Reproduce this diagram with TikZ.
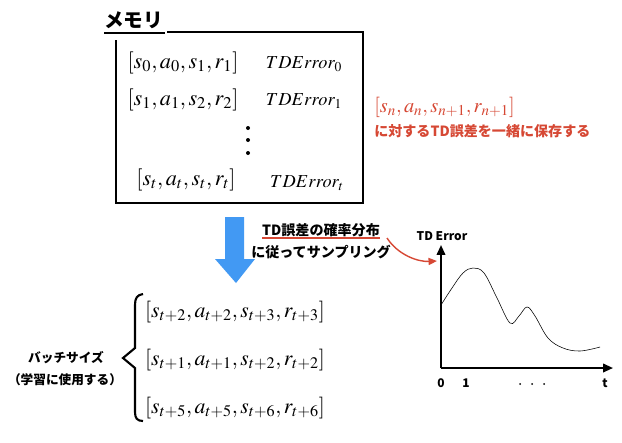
\documentclass[tikz,border=0pt]{standalone}
\usepackage{mathptmx}
\usepackage{fontspec}
\newfontfamily\jpfont{Noto Sans CJK JP}
\usetikzlibrary{arrows.meta}
\definecolor{tdred}{RGB}{214,72,52}
\definecolor{tdblue}{RGB}{66,153,243}
\tikzset{
  tuple/.style={font=\fontsize{15.8}{18}\selectfont, inner sep=0pt},
  tderr/.style={font=\fontsize{13}{15}\selectfont, inner sep=0pt},
  jptext/.style={font=\jpfont\bfseries\fontsize{10}{12}\selectfont, inner sep=0pt},
  axislbl/.style={font=\jpfont\bfseries\fontsize{8.5}{10}\selectfont, inner sep=0pt},
}
\begin{document}
\begin{tikzpicture}[x=0.025cm, y=-0.025cm]
  \useasboundingbox (0,0) rectangle (622,442);

  % memory box with its title
  \node[jptext, font=\jpfont\bfseries\fontsize{14}{16}\selectfont, anchor=west] (memlbl) at (104,20) {メモリ};
  \coordinate (memul) at (104,33);
  \coordinate (memulend) at (165,33);
  \draw[line width=1pt] (memul) -- (memulend);
  \draw[line width=1.6pt] (167,32) -- (363,32) -- (363,203) -- (116,203) -- (116,40);

  % stored transitions
  \node[tuple] (m0) at (183,63) {$[s_0, a_0, s_1, r_1]$};
  \node[tderr] (e0) at (304,64) {$TDError_0$};
  \node[tuple] (m1) at (183,100) {$[s_1, a_1, s_2, r_2]$};
  \node[tderr] (e1) at (304,101) {$TDError_1$};
  \foreach \y in {128,140,153} {
    \fill (248,\y) circle (2);
  }
  \node[tuple] (mt) at (186,180) {$[s_t, a_t, s_t, r_t]$};
  \node[tderr] (et) at (307,183) {$TDError_t$};

  % note in red
  \node[tuple, font=\fontsize{14.5}{17}\selectfont, text=tdred, anchor=west] (redtuple) at (374,107) {$[s_n, a_n, s_{n+1}, r_{n+1}]$};
  \node[jptext, text=tdred, anchor=west] (redlbl) at (374,131) {に対するTD誤差を一緒に保存する};

  % sampling arrow
  \fill[tdblue] (225,217) -- (244,217) -- (244,259) -- (255,259) -- (236,283)
    -- (215,259) -- (225,259) -- cycle;
  \node[jptext] (samp1) at (321,230) {TD誤差の確率分布};
  \node[jptext] (samp2) at (321,252) {に従ってサンプリング};
  \coordinate (sampul) at (262,238);
  \coordinate (sampulend) at (380,238);
  \draw[tdred, line width=1pt] (sampul) -- (sampulend);

  % TD error graph
  \coordinate (origin) at (441,368);
  \coordinate (ytop) at (441,245);
  \coordinate (xend) at (613,368);
  \coordinate (errtip) at (437,261);
  \draw[line width=1.4pt, -{Triangle[length=7pt,width=6pt]}] (origin) -- (ytop);
  \draw[line width=1.4pt, -{Triangle[length=7pt,width=6pt]}] (origin) -- (xend);
  \node[axislbl] (ylbl) at (442,236) {TD Error};
  \node[axislbl] (x0) at (441,383) {0};
  \node[axislbl] (x1) at (466,383) {1};
  \foreach \x in {520,532,544} {
    \fill (\x,384) circle (1);
  }
  \node[axislbl] (xt) at (605,383) {t};
  \draw[thin] plot[smooth, tension=0.6] coordinates {
    (441,305) (452,288) (463,273) (473,268) (484,273) (497,298) (510,323)
    (519,316) (527,307) (535,316) (548,338) (563,348) (580,351) (600,347)};
  \draw[tdred, line width=1pt, -{Triangle[length=6pt,width=5pt]}]
    (387,238) .. controls (398,255) and (418,262) .. (errtip);

  % mini batch
  \draw[line width=1.5pt] (143,294) .. controls (137,295) and (135,298) .. (135,305)
    -- (135,348) -- (123,358) -- (135,368) -- (135,412)
    .. controls (135,418) and (137,421) .. (143,421);
  \node[tuple, font=\fontsize{15.5}{18}\selectfont] (b1) at (235,312) {$[s_{t+2}, a_{t+2}, s_{t+3}, r_{t+3}]$};
  \node[tuple, font=\fontsize{15.5}{18}\selectfont] (b2) at (235,360) {$[s_{t+1}, a_{t+1}, s_{t+2}, r_{t+2}]$};
  \node[tuple, font=\fontsize{15.5}{18}\selectfont] (b3) at (235,408) {$[s_{t+5}, a_{t+5}, s_{t+6}, r_{t+6}]$};
  \node[jptext, font=\jpfont\bfseries\fontsize{9}{11}\selectfont] (batch1) at (66,358) {バッチサイズ};
  \node[jptext, font=\jpfont\bfseries\fontsize{9}{11}\selectfont] (batch2) at (65,380) {（学習に使用する）};
\end{tikzpicture}
\end{document}
